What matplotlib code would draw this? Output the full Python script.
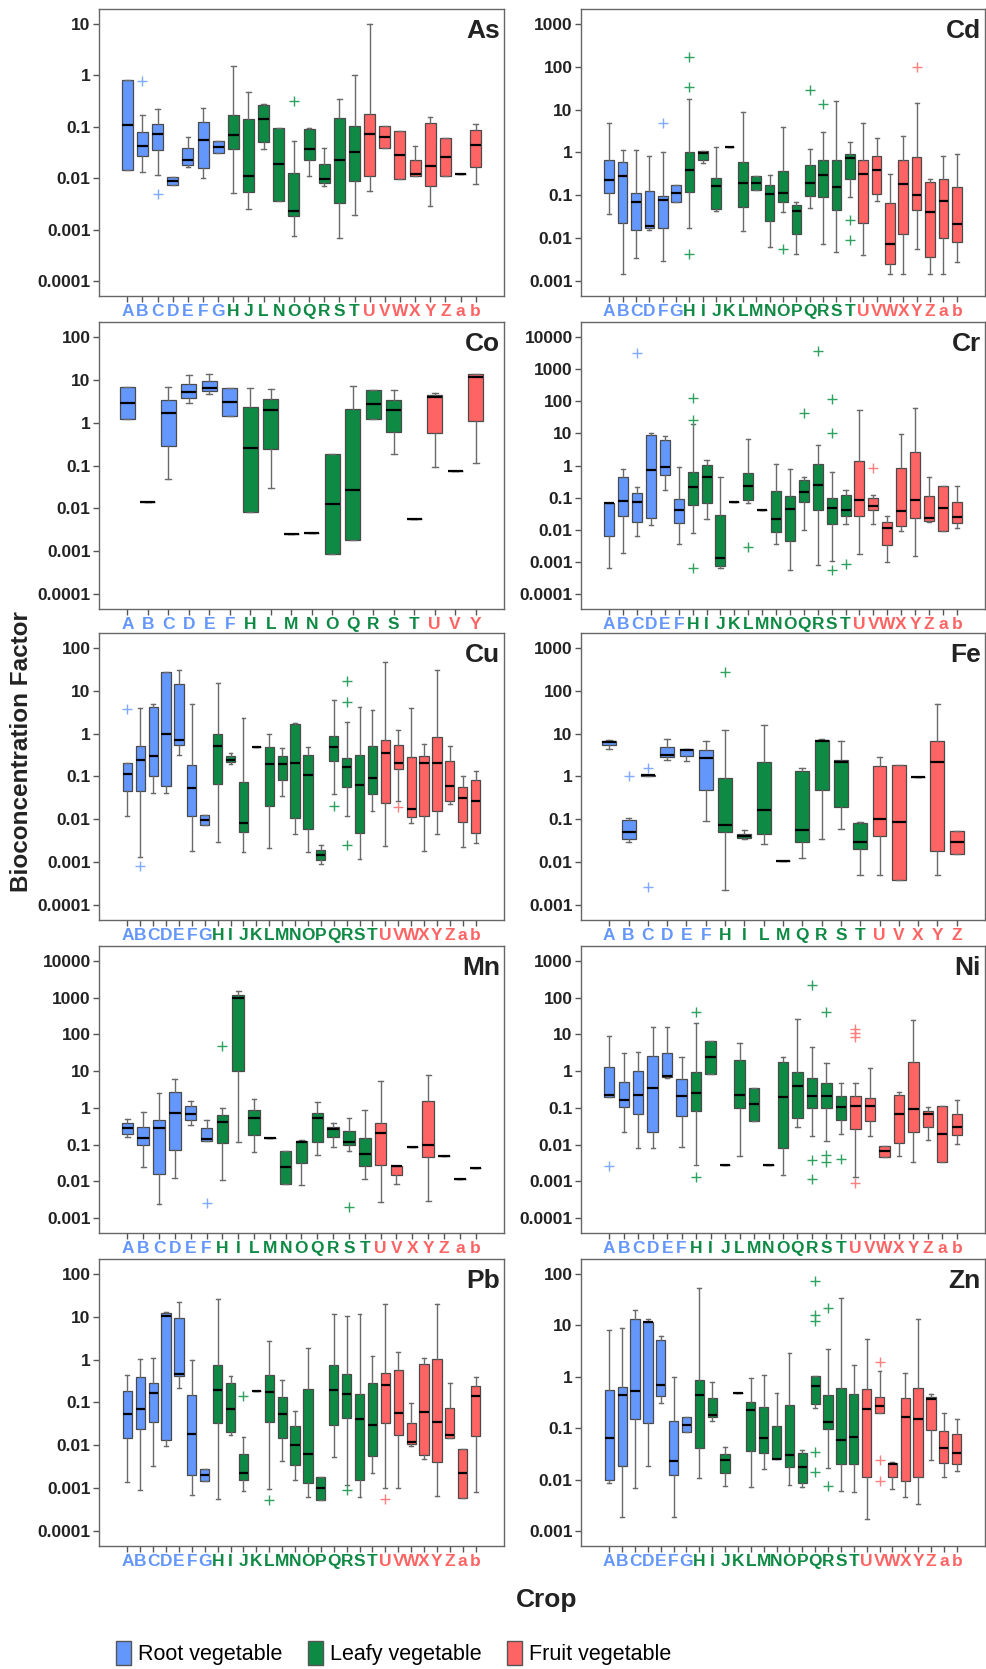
import numpy as np
import matplotlib.pyplot as plt
from matplotlib.patches import Patch

plt.rcParams['font.family'] = ['Liberation Sans', 'DejaVu Sans']

# group colours
ROOT = '#6497FC'
LEAFY = '#0E8A45'
FRUIT = '#FF6464'
ROOT_FL = '#7FAAFF'
LEAFY_FL = '#2EA060'
FRUIT_FL = '#FF7F7F'

root_letters = 'ABCDEFG'
leafy_letters = 'HIJKLMNOPQRST'

# rows: crop, whisker low, q1, median, q3, whisker high, outliers
as_rows = [
    ('A', 0.0143, 0.0143, 0.108, 0.82, 0.82, []),
    ('B', 0.0132, 0.0267, 0.043, 0.078, 0.166, [0.79]),
    ('C', 0.0116, 0.0359, 0.0734, 0.113, 0.224, [0.0050]),
    ('D', 0.0073, 0.0073, 0.0087, 0.0104, 0.0104, []),
    ('E', 0.0166, 0.0184, 0.0223, 0.0387, 0.0641, []),
    ('F', 0.0101, 0.0158, 0.0561, 0.122, 0.231, []),
    ('G', 0.0309, 0.0309, 0.041, 0.0528, 0.0528, []),
    ('H', 0.0052, 0.0375, 0.0701, 0.166, 1.51, []),
    ('J', 0.00257, 0.00533, 0.0111, 0.141, 0.465, []),
    ('L', 0.0364, 0.0513, 0.141, 0.26, 0.272, []),
    ('N', 0.00367, 0.00367, 0.0189, 0.0959, 0.0959, []),
    ('O', 0.00075, 0.00185, 0.00232, 0.0128, 0.0537, [0.311]),
    ('Q', 0.0112, 0.0223, 0.037, 0.0919, 0.0959, []),
    ('R', 0.00697, 0.0081, 0.00968, 0.0189, 0.0381, []),
    ('S', 0.00069, 0.00336, 0.0226, 0.148, 0.345, []),
    ('T', 0.00197, 0.00873, 0.0328, 0.102, 1.0, []),
    ('U', 0.00557, 0.0109, 0.0719, 0.174, 10.0, []),
    ('V', 0.0387, 0.0387, 0.0632, 0.102, 0.102, []),
    ('W', 0.00968, 0.00968, 0.0283, 0.0814, 0.0814, []),
    ('X', 0.0111, 0.0111, 0.0119, 0.023, 0.0417, []),
    ('Y', 0.00285, 0.00697, 0.0173, 0.116, 0.152, []),
    ('Z', 0.0112, 0.0112, 0.0262, 0.0596, 0.0596, []),
    ('a', 0.0121, 0.0121, 0.0121, 0.0121, 0.0121, []),
    ('b', 0.00785, 0.0168, 0.0442, 0.0851, 0.115, []),
]

cd_rows = [
    ('A', 0.0373, 0.111, 0.232, 0.656, 4.97, []),
    ('B', 0.00143, 0.0222, 0.28, 0.589, 1.12, []),
    ('C', 0.00351, 0.0152, 0.0711, 0.111, 1.16, []),
    ('D', 0.0155, 0.017, 0.0196, 0.126, 0.814, []),
    ('F', 0.00298, 0.017, 0.0764, 0.0948, 1.01, [4.97]),
    ('G', 0.0687, 0.0687, 0.111, 0.174, 0.174, []),
    ('H', 0.017, 0.122, 0.397, 1.0, 18.1, [167, 33.2, 0.00427]),
    ('I', 0.569, 0.68, 0.973, 1.08, 1.08, []),
    ('J', 0.0423, 0.0489, 0.168, 0.249, 1.32, []),
    ('K', 1.34, 1.34, 1.34, 1.34, 1.34, []),
    ('L', 0.0147, 0.0544, 0.194, 0.589, 8.98, []),
    ('M', 0.131, 0.131, 0.194, 0.283, 0.283, []),
    ('N', 0.0061, 0.0252, 0.105, 0.174, 0.304, []),
    ('O', 0.0401, 0.0687, 0.115, 0.377, 4.01, [0.00548]),
    ('P', 0.0042, 0.0123, 0.0423, 0.0594, 0.0711, []),
    ('Q', 0.0497, 0.0948, 0.194, 0.511, 1.23, [28.8]),
    ('R', 0.00718, 0.0914, 0.304, 0.656, 3.01, [13.8]),
    ('S', 0.00467, 0.0463, 0.159, 0.656, 15.7, []),
    ('T', 0.0897, 0.245, 0.731, 0.906, 1.76, [0.0261, 0.0089]),
    ('U', 0.00405, 0.023, 0.315, 0.656, 4.97, []),
    ('V', 0.0724, 0.107, 0.397, 0.814, 2.14, []),
    ('W', 0.00143, 0.00245, 0.00731, 0.065, 0.321, []),
    ('X', 0.00143, 0.0123, 0.187, 0.656, 2.43, []),
    ('Y', 0.00569, 0.0455, 0.104, 0.771, 14.1, [101]),
    ('Z', 0.00143, 0.00363, 0.0408, 0.205, 0.245, []),
    ('a', 0.00143, 0.0103, 0.0738, 0.245, 0.814, []),
    ('b', 0.00283, 0.00828, 0.021, 0.159, 0.906, []),
]

co_rows = [
    ('A', 1.19, 1.19, 2.85, 6.72, 6.72, []),
    ('B', 0.0138, 0.0138, 0.0138, 0.0138, 0.0138, []),
    ('C', 0.0475, 0.279, 1.67, 3.35, 6.72, []),
    ('D', 2.9, 3.8, 5.05, 7.76, 12.8, []),
    ('E', 4.54, 5.42, 6.6, 9.27, 13.5, []),
    ('F', 1.45, 1.45, 3.06, 6.49, 6.49, []),
    ('H', 0.00824, 0.00824, 0.26, 2.3, 6.49, []),
    ('L', 0.0293, 0.242, 2.0, 3.47, 6.15, []),
    ('M', 0.00253, 0.00253, 0.00253, 0.00253, 0.00253, []),
    ('N', 0.00262, 0.00262, 0.00262, 0.00262, 0.00262, []),
    ('O', 0.000883, 0.000883, 0.0127, 0.185, 0.185, []),
    ('Q', 0.00187, 0.00187, 0.0264, 2.03, 7.23, []),
    ('R', 1.23, 1.23, 2.75, 5.93, 5.93, []),
    ('S', 0.188, 0.602, 1.96, 3.41, 5.93, []),
    ('T', 0.00566, 0.00566, 0.00566, 0.00566, 0.00566, []),
    ('U', 0.0906, 0.581, 3.94, 4.46, 4.87, []),
    ('V', 0.0757, 0.0757, 0.0757, 0.0757, 0.0757, []),
    ('Y', 0.114, 1.09, 11.9, 13.3, 13.3, []),
]

cr_rows = [
    ('A', 0.00067, 0.0066, 0.0667, 0.0667, 0.0667, []),
    ('B', 0.00191, 0.0263, 0.0787, 0.449, 0.759, []),
    ('C', 0.0066, 0.018, 0.0755, 0.14, 0.22, [3180]),
    ('D', 0.0142, 0.0239, 0.741, 8.63, 10.4, []),
    ('E', 0.173, 0.506, 0.875, 6.33, 8.22, []),
    ('F', 0.00356, 0.0167, 0.0424, 0.093, 0.918, []),
    ('H', 0.008, 0.0592, 0.209, 0.627, 19.4, [122, 26.5, 0.000654]),
    ('I', 0.0212, 0.07, 0.428, 1.06, 1.51, []),
    ('J', 0.00067, 0.000755, 0.00137, 0.029, 0.438, []),
    ('K', 0.0755, 0.0755, 0.0755, 0.0755, 0.0755, []),
    ('L', 0.0667, 0.0826, 0.23, 0.583, 6.8, [0.00301]),
    ('M', 0.0424, 0.0424, 0.0424, 0.0424, 0.0424, []),
    ('N', 0.00364, 0.0086, 0.0212, 0.157, 1.14, []),
    ('O', 0.00058, 0.00451, 0.0455, 0.11, 0.759, []),
    ('Q', 0.0101, 0.0755, 0.147, 0.362, 0.449, [41.6]),
    ('R', 0.00081, 0.0404, 0.242, 1.11, 4.22, [3670]),
    ('S', 0.00108, 0.0152, 0.0478, 0.1, 0.642, [116, 10.4, 0.000553]),
    ('T', 0.0156, 0.027, 0.0404, 0.124, 0.177, [0.00087]),
    ('U', 0.00174, 0.027, 0.0826, 1.41, 51.5, []),
    ('V', 0.0156, 0.0424, 0.0538, 0.1, 0.124, [0.834]),
    ('W', 0.001, 0.00347, 0.0117, 0.0171, 0.0263, []),
    ('X', 0.009, 0.0135, 0.0376, 0.815, 9.72, []),
    ('Y', 0.00154, 0.0228, 0.0847, 2.62, 60.9, []),
    ('Z', 0.018, 0.0193, 0.0239, 0.11, 0.438, []),
    ('a', 0.00922, 0.00922, 0.0467, 0.236, 0.236, []),
    ('b', 0.0114, 0.0167, 0.0251, 0.0755, 0.236, []),
]

cu_rows = [
    ('A', 0.0119, 0.0464, 0.116, 0.205, 0.205, [3.79]),
    ('B', 0.0013, 0.0448, 0.249, 0.52, 4.07, [0.000815]),
    ('C', 0.0402, 0.104, 0.304, 4.22, 4.95, []),
    ('D', 0.0402, 0.0586, 0.989, 27.6, 27.6, []),
    ('E', 0.321, 0.538, 0.717, 14.7, 30.7, []),
    ('F', 0.00179, 0.0117, 0.0526, 0.184, 5.04, []),
    ('G', 0.00722, 0.00722, 0.00962, 0.0128, 0.0128, []),
    ('H', 0.0029, 0.0676, 0.51, 0.989, 15.3, []),
    ('I', 0.194, 0.216, 0.245, 0.293, 0.363, []),
    ('J', 0.00176, 0.00505, 0.00804, 0.0752, 2.33, []),
    ('K', 0.492, 0.492, 0.492, 0.492, 0.492, []),
    ('L', 0.00218, 0.0207, 0.198, 0.475, 0.989, []),
    ('M', 0.0349, 0.0822, 0.198, 0.298, 0.465, []),
    ('N', 0.00454, 0.0109, 0.205, 1.66, 1.79, []),
    ('O', 0.00176, 0.00604, 0.108, 0.309, 0.475, []),
    ('P', 0.00089, 0.0011, 0.00144, 0.00192, 0.00247, []),
    ('Q', 0.0381, 0.236, 0.475, 0.889, 6.14, [0.0207]),
    ('R', 0.0117, 0.0575, 0.165, 0.268, 1.82, [17.3, 5.4, 0.00251]),
    ('S', 0.00116, 0.0047, 0.0618, 0.321, 4.22, []),
    ('T', 0.0158, 0.0381, 0.0916, 0.52, 3.52, []),
    ('U', 0.00234, 0.0239, 0.357, 0.717, 48.0, []),
    ('V', 0.0272, 0.151, 0.205, 0.538, 1.2, [0.0193]),
    ('W', 0.00833, 0.0113, 0.0173, 0.282, 4.07, []),
    ('X', 0.00179, 0.0117, 0.205, 0.293, 0.558, []),
    ('Y', 0.00454, 0.0156, 0.212, 0.857, 31.2, []),
    ('Z', 0.0231, 0.0267, 0.0586, 0.236, 0.52, []),
    ('a', 0.00226, 0.00863, 0.0319, 0.0565, 0.1, []),
    ('b', 0.0028, 0.0047, 0.0267, 0.0809, 0.138, []),
]

fe_rows = [
    ('A', 4.28, 5.31, 6.24, 6.7, 7.07, []),
    ('B', 0.0298, 0.0349, 0.0509, 0.0986, 0.106, [1.0]),
    ('C', 1.03, 1.03, 1.06, 1.09, 1.09, [1.55, 0.00262]),
    ('D', 2.38, 2.79, 3.22, 4.86, 7.33, []),
    ('E', 2.29, 3.05, 4.06, 4.28, 4.28, []),
    ('F', 0.0918, 0.493, 2.74, 4.13, 6.58, []),
    ('H', 0.00223, 0.05, 0.0754, 0.938, 11.9, [281]),
    ('I', 0.0349, 0.0362, 0.0403, 0.0457, 0.0566, []),
    ('L', 0.0272, 0.0449, 0.166, 2.17, 15.8, []),
    ('M', 0.0109, 0.0109, 0.0109, 0.0109, 0.0109, []),
    ('Q', 0.0128, 0.0303, 0.0577, 1.36, 1.55, []),
    ('R', 0.0356, 0.493, 6.82, 7.07, 7.33, []),
    ('S', 0.0587, 0.191, 2.17, 2.46, 6.82, []),
    ('T', 0.00516, 0.0201, 0.0303, 0.081, 0.0885, []),
    ('U', 0.00516, 0.0403, 0.1, 1.72, 2.84, []),
    ('V', 0.00395, 0.00395, 0.0855, 1.85, 1.85, []),
    ('X', 0.955, 0.955, 0.955, 0.955, 0.955, []),
    ('Y', 0.00498, 0.018, 2.17, 6.82, 48.7, []),
    ('Z', 0.0156, 0.0156, 0.0292, 0.0547, 0.0547, []),
]

mn_rows = [
    ('A', 0.16, 0.197, 0.28, 0.399, 0.512, []),
    ('B', 0.0246, 0.1, 0.153, 0.298, 0.776, []),
    ('C', 0.00239, 0.0159, 0.284, 0.461, 2.59, []),
    ('D', 0.0121, 0.071, 0.714, 2.65, 5.96, []),
    ('E', 0.337, 0.481, 0.685, 1.15, 1.51, []),
    ('F', 0.127, 0.127, 0.138, 0.292, 0.461, [0.00255]),
    ('H', 0.0107, 0.112, 0.425, 0.643, 0.975, [47.7]),
    ('I', 0.117, 10.4, 972, 1175, 1475, []),
    ('L', 0.0626, 0.188, 0.545, 0.879, 1.78, []),
    ('M', 0.153, 0.153, 0.153, 0.153, 0.153, []),
    ('N', 0.00869, 0.00869, 0.024, 0.0667, 0.0667, []),
    ('O', 0.00815, 0.0315, 0.117, 0.122, 0.132, []),
    ('Q', 0.0509, 0.115, 0.545, 0.744, 1.42, []),
    ('R', 0.0856, 0.163, 0.258, 0.298, 0.399, []),
    ('S', 0.0681, 0.0949, 0.119, 0.232, 0.533, [0.00202]),
    ('T', 0.0116, 0.0261, 0.0542, 0.147, 0.879, []),
    ('U', 0.00282, 0.0272, 0.205, 0.399, 5.26, []),
    ('V', 0.0087, 0.0152, 0.0266, 0.0266, 0.0266, []),
    ('X', 0.0856, 0.0856, 0.0856, 0.0856, 0.0856, []),
    ('Y', 0.00294, 0.0468, 0.0949, 1.51, 7.97, []),
    ('Z', 0.0478, 0.0478, 0.0478, 0.0478, 0.0478, []),
    ('a', 0.0119, 0.0119, 0.0119, 0.0119, 0.0119, []),
    ('b', 0.0236, 0.0236, 0.0236, 0.0236, 0.0236, []),
]

ni_rows = [
    ('A', 0.2, 0.2, 0.231, 1.31, 8.93, [0.00255]),
    ('B', 0.0219, 0.105, 0.166, 0.512, 3.1, []),
    ('C', 0.0082, 0.0676, 0.231, 1.04, 3.28, []),
    ('D', 0.0082, 0.0219, 0.337, 2.55, 15.7, []),
    ('E', 0.644, 0.7, 0.73, 3.02, 15.7, []),
    ('F', 0.00873, 0.0608, 0.209, 0.618, 2.35, []),
    ('H', 0.00277, 0.0798, 0.262, 0.938, 19.8, [41, 0.00128]),
    ('I', 0.81, 0.81, 2.4, 6.81, 6.81, []),
    ('J', 0.00271, 0.00271, 0.00271, 0.00271, 0.00271, []),
    ('L', 0.00487, 0.0984, 0.22, 2.03, 5.88, []),
    ('M', 0.0427, 0.0427, 0.124, 0.351, 0.351, []),
    ('N', 0.00283, 0.00283, 0.00283, 0.00283, 0.00283, []),
    ('O', 0.00151, 0.00787, 0.192, 1.72, 2.35, []),
    ('Q', 0.0293, 0.0537, 0.39, 0.938, 26.4, []),
    ('R', 0.0167, 0.1, 0.204, 0.657, 4.48, [222, 0.00387, 0.00115]),
    ('S', 0.0125, 0.1, 0.209, 0.461, 1.68, [41.9, 0.00507, 0.00327]),
    ('T', 0.0189, 0.0464, 0.105, 0.217, 0.481, [0.00412]),
    ('U', 0.00131, 0.0264, 0.114, 0.209, 0.461, [13.8, 10.8, 8.4, 0.000916]),
    ('V', 0.0167, 0.0427, 0.115, 0.18, 1.2, []),
    ('W', 0.00467, 0.00467, 0.0068, 0.00891, 0.00891, []),
    ('X', 0.00497, 0.011, 0.069, 0.22, 0.268, []),
    ('Y', 0.00341, 0.0214, 0.0924, 1.72, 24.9, []),
    ('Z', 0.0132, 0.0293, 0.069, 0.0815, 0.105, []),
    ('a', 0.00341, 0.00341, 0.0193, 0.109, 0.109, []),
    ('b', 0.0105, 0.0177, 0.0299, 0.069, 0.162, []),
]

pb_rows = [
    ('A', 0.00138, 0.0151, 0.0535, 0.187, 0.44, []),
    ('B', 0.000931, 0.024, 0.0688, 0.388, 1.05, []),
    ('C', 0.0033, 0.0343, 0.165, 0.282, 1.09, []),
    ('D', 0.00965, 0.0131, 10.4, 12.2, 13.1, []),
    ('E', 0.219, 0.417, 0.464, 9.48, 22.3, []),
    ('F', 0.0007, 0.00208, 0.0184, 0.146, 0.982, []),
    ('G', 0.00148, 0.00148, 0.002, 0.00282, 0.00282, []),
    ('H', 0.000575, 0.0325, 0.194, 0.752, 26.2, []),
    ('I', 0.0171, 0.0208, 0.0713, 0.287, 0.417, []),
    ('J', 0.000883, 0.00156, 0.00223, 0.0064, 0.0156, [0.14]),
    ('K', 0.184, 0.184, 0.184, 0.184, 0.184, []),
    ('L', 0.00098, 0.0349, 0.177, 0.44, 2.77, [0.000526]),
    ('M', 0.0044, 0.0151, 0.0526, 0.131, 0.33, []),
    ('N', 0.00153, 0.00355, 0.0104, 0.0287, 0.064, []),
    ('O', 0.000628, 0.00135, 0.0064, 0.212, 1.83, []),
    ('P', 0.000545, 0.000545, 0.001, 0.0018, 0.0018, []),
    ('Q', 0.00535, 0.0292, 0.194, 0.738, 11.9, []),
    ('R', 0.00122, 0.044, 0.156, 0.472, 10.5, [0.000898]),
    ('S', 0.000628, 0.00153, 0.041, 0.159, 11.7, []),
    ('T', 0.00227, 0.00575, 0.0297, 0.282, 1.24, []),
    ('U', 0.001, 0.033, 0.262, 0.49, 20.1, [0.000575]),
    ('V', 0.001, 0.0171, 0.0565, 0.575, 1.53, []),
    ('W', 0.00965, 0.0107, 0.012, 0.0337, 0.0982, []),
    ('X', 0.00481, 0.00607, 0.0585, 0.793, 1.11, []),
    ('Y', 0.000675, 0.00409, 0.0355, 1.05, 20.1, []),
    ('Z', 0.0148, 0.0148, 0.0177, 0.0752, 0.292, []),
    ('a', 0.000596, 0.000596, 0.00223, 0.00822, 0.00822, []),
    ('b', 0.000836, 0.0162, 0.14, 0.244, 0.388, []),
]

zn_rows = [
    ('A', 0.00867, 0.01, 0.0647, 0.561, 8.19, []),
    ('B', 0.0019, 0.0188, 0.449, 0.641, 8.96, []),
    ('C', 0.00683, 0.153, 0.529, 13.4, 20.3, []),
    ('D', 0.0182, 0.128, 11.4, 11.7, 13.4, []),
    ('E', 0.314, 0.429, 0.681, 5.09, 6.26, []),
    ('F', 0.0019, 0.0122, 0.0232, 0.136, 1.0, []),
    ('G', 0.0834, 0.0834, 0.117, 0.163, 0.163, []),
    ('H', 0.011, 0.042, 0.449, 0.877, 53.5, []),
    ('I', 0.138, 0.163, 0.184, 0.381, 0.802, []),
    ('J', 0.00758, 0.0137, 0.0246, 0.0321, 0.0433, []),
    ('K', 0.491, 0.491, 0.491, 0.491, 0.491, []),
    ('L', 0.00714, 0.0362, 0.226, 0.323, 0.931, []),
    ('M', 0.0164, 0.0331, 0.0647, 0.263, 1.06, []),
    ('N', 0.025, 0.025, 0.0253, 0.112, 0.491, []),
    ('O', 0.00793, 0.0175, 0.0298, 0.283, 2.93, []),
    ('P', 0.00714, 0.00879, 0.0175, 0.0327, 0.0384, []),
    ('Q', 0.244, 0.291, 0.651, 1.05, 1.05, [74.3, 15.8, 12.4, 0.0346, 0.014]),
    ('R', 0.0169, 0.0953, 0.13, 0.436, 3.4, [21.6, 0.00736]),
    ('S', 0.00589, 0.0206, 0.0583, 0.604, 34.7, []),
    ('T', 0.00566, 0.0206, 0.0667, 0.455, 1.69, []),
    ('U', 0.00171, 0.0113, 0.24, 0.578, 5.48, []),
    ('V', 0.198, 0.198, 0.275, 0.41, 1.31, [1.9, 0.0242, 0.00962]),
    ('W', 0.00653, 0.0113, 0.0203, 0.0213, 0.0222, []),
    ('X', 0.00457, 0.00948, 0.168, 0.381, 1.2, []),
    ('Y', 0.00339, 0.0113, 0.149, 0.604, 13.2, []),
    ('Z', 0.0239, 0.0939, 0.375, 0.41, 0.462, []),
    ('a', 0.0113, 0.0215, 0.042, 0.0885, 0.195, []),
    ('b', 0.015, 0.0203, 0.0327, 0.0762, 0.151, []),
]

# element, rows, y tick range (decades)
panels = [
    ('As', as_rows, (-4, 1)), ('Cd', cd_rows, (-3, 3)),
    ('Co', co_rows, (-4, 2)), ('Cr', cr_rows, (-4, 4)),
    ('Cu', cu_rows, (-4, 2)), ('Fe', fe_rows, (-3, 3)),
    ('Mn', mn_rows, (-3, 4)), ('Ni', ni_rows, (-4, 3)),
    ('Pb', pb_rows, (-4, 2)), ('Zn', zn_rows, (-3, 2)),
]


def group_colors(letter):
    if letter in root_letters:
        return ROOT, ROOT_FL
    if letter in leafy_letters:
        return LEAFY, LEAFY_FL
    return FRUIT, FRUIT_FL


W, H = 987, 1669
fig = plt.figure(figsize=(W / 100, H / 100), dpi=100)

col_x = [99, 581]
col_w = [405, 404]
row_top = [9, 322, 633, 946, 1259]
ax_h = 287

for i, (name, rows, (lo, hi)) in enumerate(panels):
    r, c = divmod(i, 2)
    ax = fig.add_axes([col_x[c] / W, 1 - (row_top[r] + ax_h) / H,
                       col_w[c] / W, ax_h / H])
    stats = []
    for lab, wl, q1, med, q3, wh, fl in rows:
        stats.append(dict(label=lab, whislo=wl, q1=q1, med=med, q3=q3,
                          whishi=wh, fliers=fl))
    n = len(stats)
    pos = np.arange(1, n + 1)
    bp = ax.bxp(stats, positions=pos, widths=0.72, patch_artist=True,
                showfliers=True, capwidths=0.3,
                boxprops=dict(edgecolor='#4a4a4a', linewidth=0.9),
                medianprops=dict(color='black', linewidth=1.6),
                whiskerprops=dict(color='#6a6a6a', linewidth=1.0),
                capprops=dict(color='#6a6a6a', linewidth=1.0),
                flierprops=dict(marker='+', markersize=7, markeredgewidth=1.0))
    for k, lab in enumerate([s['label'] for s in stats]):
        fc, flc = group_colors(lab)
        bp['boxes'][k].set_facecolor(fc)
        bp['fliers'][k].set_markeredgecolor(flc)

    ax.set_yscale('log')
    R = hi - lo
    ax.set_ylim(10 ** (lo - 0.058 * R), 10 ** (hi + 0.058 * R))
    ticks = [10.0 ** e for e in range(lo, hi + 1)]
    ax.set_yticks(ticks)
    ax.set_yticklabels([f'{t:g}' for t in ticks], fontsize=12.5,
                       fontweight='bold', color='#222222')
    ax.minorticks_off()
    pad = 0.07 * (n - 1) / (1 - 0.14)
    ax.set_xlim(1 - pad, n + pad)
    ax.set_xticks(pos)
    ax.set_xticklabels([s['label'] for s in stats], fontsize=12.5,
                       fontweight='bold')
    for t in ax.get_xticklabels():
        t.set_color(group_colors(t.get_text())[0])
    ax.tick_params(axis='both', direction='out', length=4, width=1,
                   color='#555555', pad=2)
    for sp in ax.spines.values():
        sp.set_color('#666666')
        sp.set_linewidth(1.0)
    ax.text(0.99, 0.965, name, transform=ax.transAxes, ha='right', va='top',
            fontsize=19, fontweight='bold', color='#222222')

fig.text(22 / W, 1 - 752 / H, 'Bioconcentration Factor', rotation=90,
         ha='center', va='center', fontsize=17.5, fontweight='bold',
         color='#222222')
fig.text(547 / W, 1 - 1600 / H, 'Crop', ha='center', va='center',
         fontsize=19, fontweight='bold', color='#222222')

handles = [Patch(facecolor=ROOT, edgecolor='#555555', label='Root vegetable'),
           Patch(facecolor=LEAFY, edgecolor='#555555', label='Leafy vegetable'),
           Patch(facecolor=FRUIT, edgecolor='#555555', label='Fruit vegetable')]
fig.legend(handles=handles, loc='center left',
           bbox_to_anchor=(97 / W, 1 - 1653 / H), ncol=3, frameon=False,
           fontsize=15.5, handlelength=0.7, handleheight=1.4,
           handletextpad=0.3, columnspacing=1.2)

fig.savefig('out.png', dpi=100)
